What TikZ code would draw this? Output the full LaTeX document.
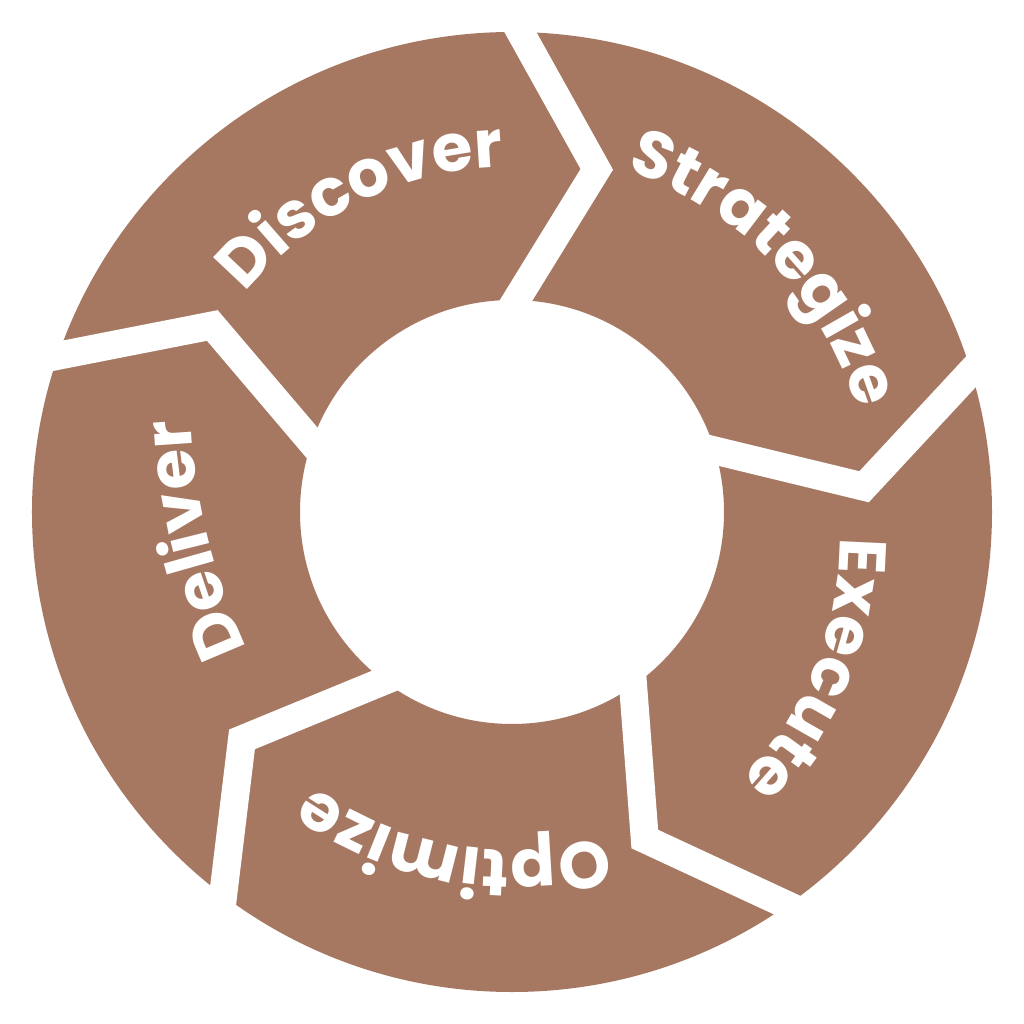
\documentclass[tikz,border=0pt]{standalone}
\usepackage{fontspec}
\setmainfont{Poppins}
\usetikzlibrary{calc,decorations.text}
\definecolor{segbrown}{RGB}{166,120,98}
\newcommand\lblfont{\fontsize{47}{49}\selectfont\bfseries}
\begin{document}
\begin{tikzpicture}[x=0.025cm,y=0.025cm,
  gapline/.style={draw=white, line width=0.7cm, line join=miter, miter limit=10},
  lbl/.style={decorate, decoration={text along path, text align=center, text color=white, text={|\lblfont|#1}}}]
\useasboundingbox (-512,-512) rectangle (512,512);
% ring
\fill[segbrown, even odd rule] (0,0) circle[radius=480] (0,0) circle[radius=212];
% chevron gaps
\foreach \t [count=\i] in {89,17,-55,-127,-199} {
  \coordinate (tip\i) at (\t-12.9:353);
  \coordinate (out\i) at (\t:480);
  \coordinate (in\i) at (\t:211);
  \draw[gapline] ($(tip\i)!1.2!(out\i)$) -- (tip\i) -- ($(tip\i)!1.5!(in\i)$);
}
% labels
\path[lbl=Discover] (186:345) arc[start angle=186, end angle=46, radius=345];
\path[lbl=Strategize] (114:360) arc[start angle=114, end angle=-26, radius=360];
\path[lbl=Execute] ($(-12.1,-27.1)+(47.7:340)$) arc[start angle=47.7, end angle=-92.3, radius=340];
\path[lbl=Optimize] (-30:338) arc[start angle=-30, end angle=-170, radius=338];
\path[lbl=Deliver] ($(278,119.4)+(223.9:600)$) arc[start angle=223.9, end angle=163.9, radius=600];
\end{tikzpicture}
\end{document}
